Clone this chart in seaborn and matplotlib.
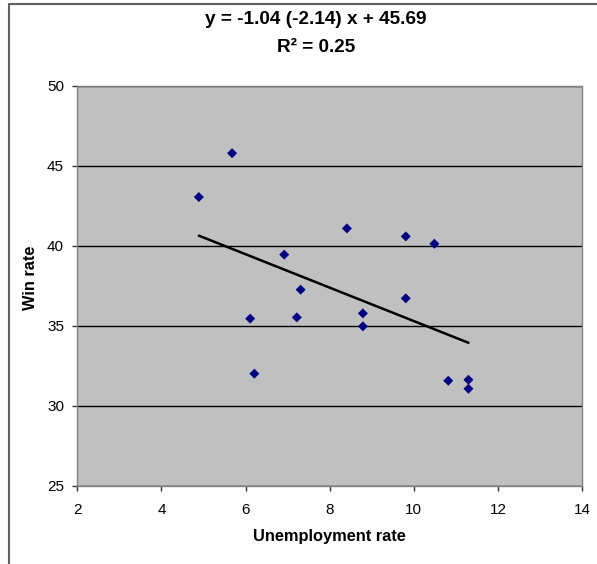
"""Win rate vs unemployment rate scatter with linear fit."""

import matplotlib
matplotlib.use("Agg")
import matplotlib.pyplot as plt
import seaborn as sns
import pandas as pd
from matplotlib.lines import Line2D

# Data
unemployment = [4.89, 5.68, 6.11, 6.21, 6.92, 7.22, 7.31, 8.41,
                8.79, 8.79, 9.81, 9.81, 10.49, 10.82, 11.30, 11.30]
win_rate = [43.06, 45.80, 35.46, 32.02, 39.46, 35.54, 37.27, 41.10,
            35.79, 34.98, 40.60, 36.73, 40.14, 31.58, 31.64, 31.08]
title_lines = ["y = -1.04 (-2.14) x + 45.69", "R\u00b2 = 0.25"]
x_ticks = [2, 4, 6, 8, 10, 12, 14]
y_ticks = [25, 30, 35, 40, 45, 50]

df = pd.DataFrame({"Unemployment rate": unemployment, "Win rate": win_rate})

sns.set_style("white")
plt.rcParams['font.family'] = ['Liberation Sans', 'DejaVu Sans']
plt.rcParams['text.color'] = 'black'
plt.rcParams['axes.labelcolor'] = 'black'
plt.rcParams['xtick.labelcolor'] = 'black'
plt.rcParams['ytick.labelcolor'] = 'black'

fig = plt.figure(figsize=(5.97, 5.64), dpi=100)
ax = fig.add_axes([77.3 / 597, 1 - 486 / 564, (582 - 77.3) / 597, 400 / 564])
ax.set_facecolor('#C0C0C0')

# trend line first so the points sit on top
sns.regplot(data=df, x="Unemployment rate", y="Win rate", scatter=False, ci=None,
            color='black', line_kws={'linewidth': 1.8}, ax=ax)
sns.scatterplot(data=df, x="Unemployment rate", y="Win rate", marker='D', s=26,
                color='#000080', edgecolor='none', ax=ax, zorder=3)

ax.set_xlim(2, 14)
ax.set_ylim(25, 50)
ax.set_xticks(x_ticks)
ax.set_yticks(y_ticks)
ax.grid(True, axis='y', color='black', linewidth=1.0)
ax.set_axisbelow(True)
for side in ax.spines.values():
    side.set_color('#808080')
    side.set_linewidth(1.0)

ax.tick_params(axis='both', direction='out', length=3.5, width=1, color='#333333',
               labelsize=11, labelcolor='black', bottom=True, left=True)
ax.tick_params(axis='x', pad=9)
ax.tick_params(axis='y', pad=6)
ax.set_xlabel("Unemployment rate", fontsize=11.8, fontweight='bold', color='black')
ax.set_ylabel("Win rate", fontsize=11.8, fontweight='bold', color='black')
ax.xaxis.set_label_coords(0.5, -0.108)
ax.yaxis.set_label_coords(-0.078, 0.52)

fig.text(316 / 597, 1 - 20 / 564, title_lines[0], ha='center', va='center',
         fontsize=13.7, fontweight='bold', color='black')
fig.text(316 / 597, 1 - 47 / 564, title_lines[1], ha='center', va='center',
         fontsize=13.7, fontweight='bold', color='black')

# chart-area border (left and top visible)
fig.add_artist(Line2D([9 / 597, 9 / 597, 1.0], [0.0, 1 - 4 / 564, 1 - 4 / 564],
                      transform=fig.transFigure, color='#606060', linewidth=1.5))

plt.savefig("out.png", dpi=100)
plt.close()
